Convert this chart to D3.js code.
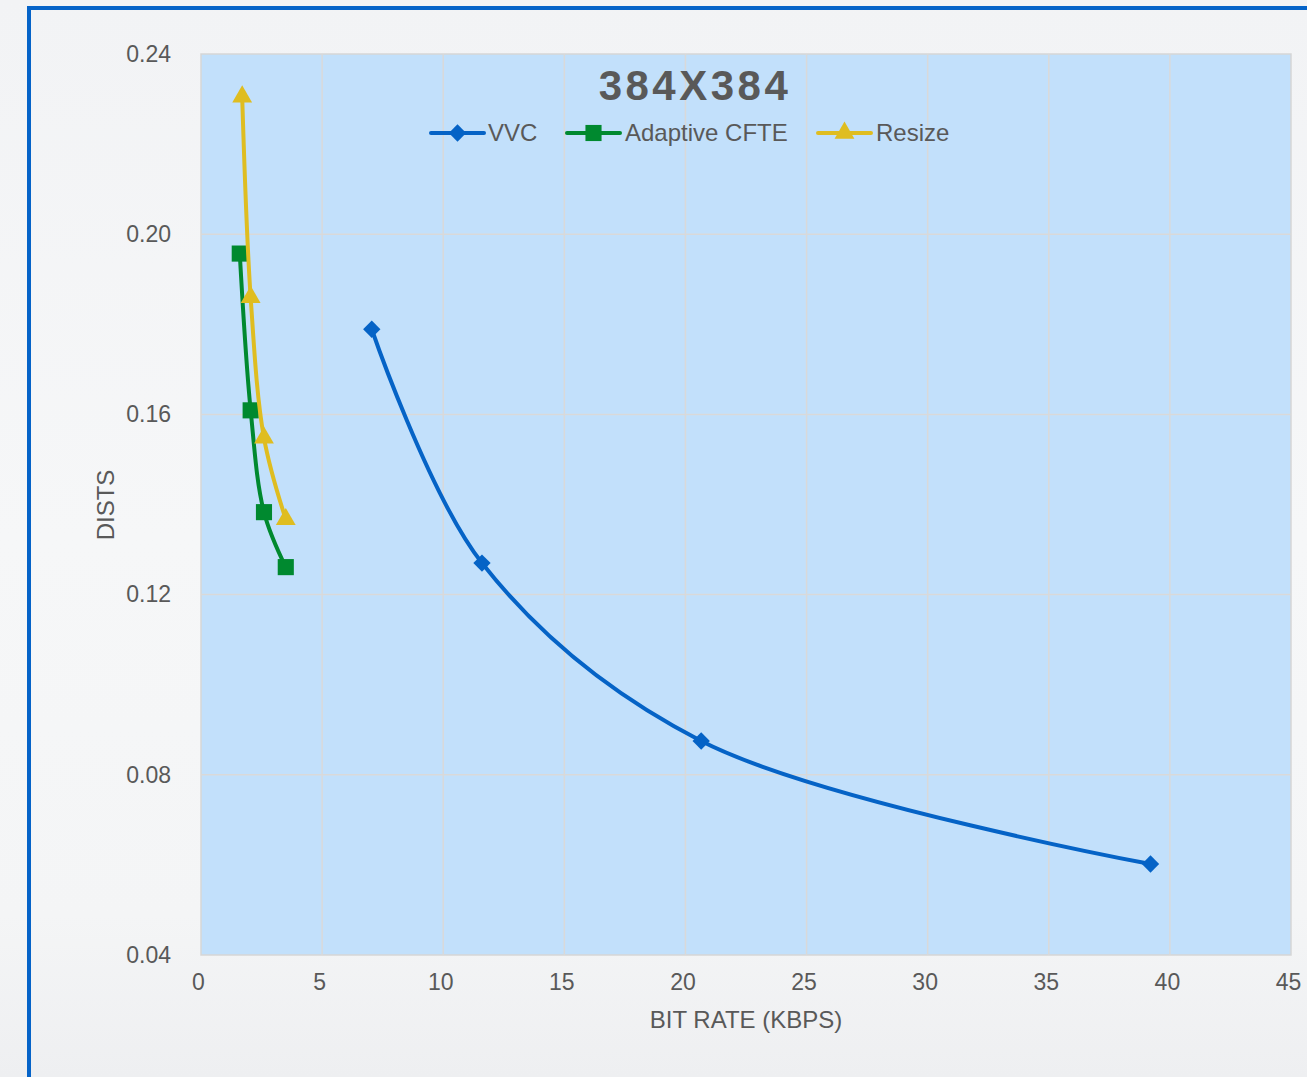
<!DOCTYPE html>
<html>
<head>
<meta charset="utf-8">
<script src="https://cdn.jsdelivr.net/npm/d3@7"></script>
<style>
  html, body { margin: 0; padding: 0; background: #f3f4f6; }
  svg { display: block; font-family: "Liberation Sans", Arial, sans-serif; }
</style>
</head>
<body>
<svg id="chart" width="1307" height="1077"></svg>
<script>
// Rate–distortion curves (DISTS vs. bit rate) at 384x384
const seriesNames = ["VVC", "Adaptive CFTE", "Resize"];
const vvcRate   = [7.05, 11.6, 20.65, 39.2];
const vvcDists  = [0.1789, 0.1270, 0.0875, 0.0602];
const cfteRate  = [1.6, 2.05, 2.6, 3.5];
const cfteDists = [0.1957, 0.1609, 0.1383, 0.1261];
const resizeRate  = [1.7, 2.05, 2.6, 3.5];
const resizeDists = [0.2305, 0.1860, 0.1548, 0.1367];
const xTicks = [0, 5, 10, 15, 20, 25, 30, 35, 40, 45];
const yTicks = [0.04, 0.08, 0.12, 0.16, 0.20, 0.24];

const svg = d3.select("#chart");
const W = 1307, H = 1077;

// page background with soft gradient
const defs = svg.append("defs");
const bg = defs.append("linearGradient").attr("id", "bg").attr("x1", 0).attr("y1", 0).attr("x2", 0).attr("y2", 1);
bg.append("stop").attr("offset", "0%").attr("stop-color", "#f2f3f5");
bg.append("stop").attr("offset", "50%").attr("stop-color", "#f6f7f8");
bg.append("stop").attr("offset", "85%").attr("stop-color", "#f4f5f6");
bg.append("stop").attr("offset", "100%").attr("stop-color", "#eeeff1");
svg.append("rect").attr("width", W).attr("height", H).attr("fill", "url(#bg)");

// outer frame
svg.append("rect").attr("x", 29).attr("y", 8).attr("width", 1300).attr("height", 1100)
  .attr("fill", "none").attr("stroke", "#0563c8").attr("stroke-width", 4);

const plot = { left: 201, right: 1291, top: 54, bottom: 955 };
const x = d3.scaleLinear().domain([0, 45]).range([plot.left, plot.right]);
const y = d3.scaleLinear().domain([0.04, 0.24]).range([plot.bottom, plot.top]);

// plot area
svg.append("rect").attr("x", plot.left).attr("y", plot.top)
  .attr("width", plot.right - plot.left).attr("height", plot.bottom - plot.top)
  .attr("fill", "#c2e0fb").attr("stroke", "#d6d6d6").attr("stroke-width", 1.5);

// gridlines
const grid = svg.append("g").attr("stroke", "#d9d9d9").attr("stroke-width", 1.5);
xTicks.slice(1, -1).forEach(t => grid.append("line")
  .attr("x1", x(t)).attr("x2", x(t)).attr("y1", plot.top).attr("y2", plot.bottom));
yTicks.slice(1, -1).forEach(t => grid.append("line")
  .attr("x1", plot.left).attr("x2", plot.right).attr("y1", y(t)).attr("y2", y(t)));

// axes (labels only)
const xAxis = svg.append("g").attr("transform", `translate(0,${plot.bottom + 16})`)
  .call(d3.axisBottom(x).tickValues(xTicks).tickSize(0).tickFormat(d3.format("d")));
xAxis.select(".domain").remove();
xAxis.selectAll("text").attr("fill", "#595959").attr("font-size", 23)
  .attr("font-family", "Liberation Sans, Arial, sans-serif").attr("dx", -3);

const yAxis = svg.append("g").attr("transform", `translate(${plot.left - 27},0)`)
  .call(d3.axisLeft(y).tickValues(yTicks).tickSize(0).tickFormat(d3.format(".2f")));
yAxis.select(".domain").remove();
yAxis.selectAll("text").attr("fill", "#595959").attr("font-size", 23)
  .attr("font-family", "Liberation Sans, Arial, sans-serif").attr("dx", 0).attr("dy", "0.32em");

// axis titles
svg.append("text").attr("x", 746).attr("y", 1028).attr("text-anchor", "middle")
  .attr("fill", "#595959").attr("font-size", 24).text("BIT RATE (KBPS)");
svg.append("text").attr("transform", "translate(114,505) rotate(-90)").attr("text-anchor", "middle")
  .attr("fill", "#595959").attr("font-size", 24).text("DISTS");

// chart title
svg.append("text").attr("x", 695).attr("y", 100).attr("text-anchor", "middle")
  .attr("fill", "#595959").attr("font-size", 42).attr("font-weight", "bold")
  .attr("letter-spacing", 3.5).text("384X384");

const series = [
  { name: seriesNames[0], xs: vvcRate, ys: vvcDists, color: "#0563c6", marker: "diamond" },
  { name: seriesNames[1], xs: cfteRate, ys: cfteDists, color: "#00892f", marker: "square" },
  { name: seriesNames[2], xs: resizeRate, ys: resizeDists, color: "#dfbd20", marker: "triangle" }
];

function marker(g, s, cx, cy) {
  let shape, rot = 0;
  if (s.marker === "diamond") { shape = d3.symbol().type(d3.symbolSquare).size(150); rot = 45; }
  else if (s.marker === "square") shape = d3.symbol().type(d3.symbolSquare).size(260);
  else shape = d3.symbol().type(d3.symbolTriangle).size(170);
  g.append("path").attr("d", shape()).attr("transform", `translate(${cx},${cy}) rotate(${rot})`)
    .attr("fill", s.color);
}

const line = d3.line().x(d => x(d[0])).y(d => y(d[1])).curve(d3.curveCatmullRom.alpha(0.5));

series.forEach(s => {
  const pts = s.xs.map((v, i) => [v, s.ys[i]]);
  const g = svg.append("g");
  g.append("path").datum(pts).attr("d", line).attr("fill", "none")
    .attr("stroke", s.color).attr("stroke-width", 4).attr("stroke-linecap", "round");
  pts.forEach(p => marker(g, s, x(p[0]), y(p[1])));
});

// legend
const legendItems = [
  { s: series[0], x0: 431, tx: 488 },
  { s: series[1], x0: 567, tx: 625 },
  { s: series[2], x0: 818, tx: 876 }
];
legendItems.forEach(it => {
  const g = svg.append("g");
  g.append("line").attr("x1", it.x0).attr("x2", it.x0 + 53).attr("y1", 133).attr("y2", 133)
    .attr("stroke", it.s.color).attr("stroke-width", 4).attr("stroke-linecap", "round");
  marker(g, it.s, it.x0 + 26.5, 133);
  g.append("text").attr("x", it.tx).attr("y", 133).attr("dy", "0.35em")
    .attr("fill", "#595959").attr("font-size", 24).text(it.s.name);
});
</script>
</body>
</html>
